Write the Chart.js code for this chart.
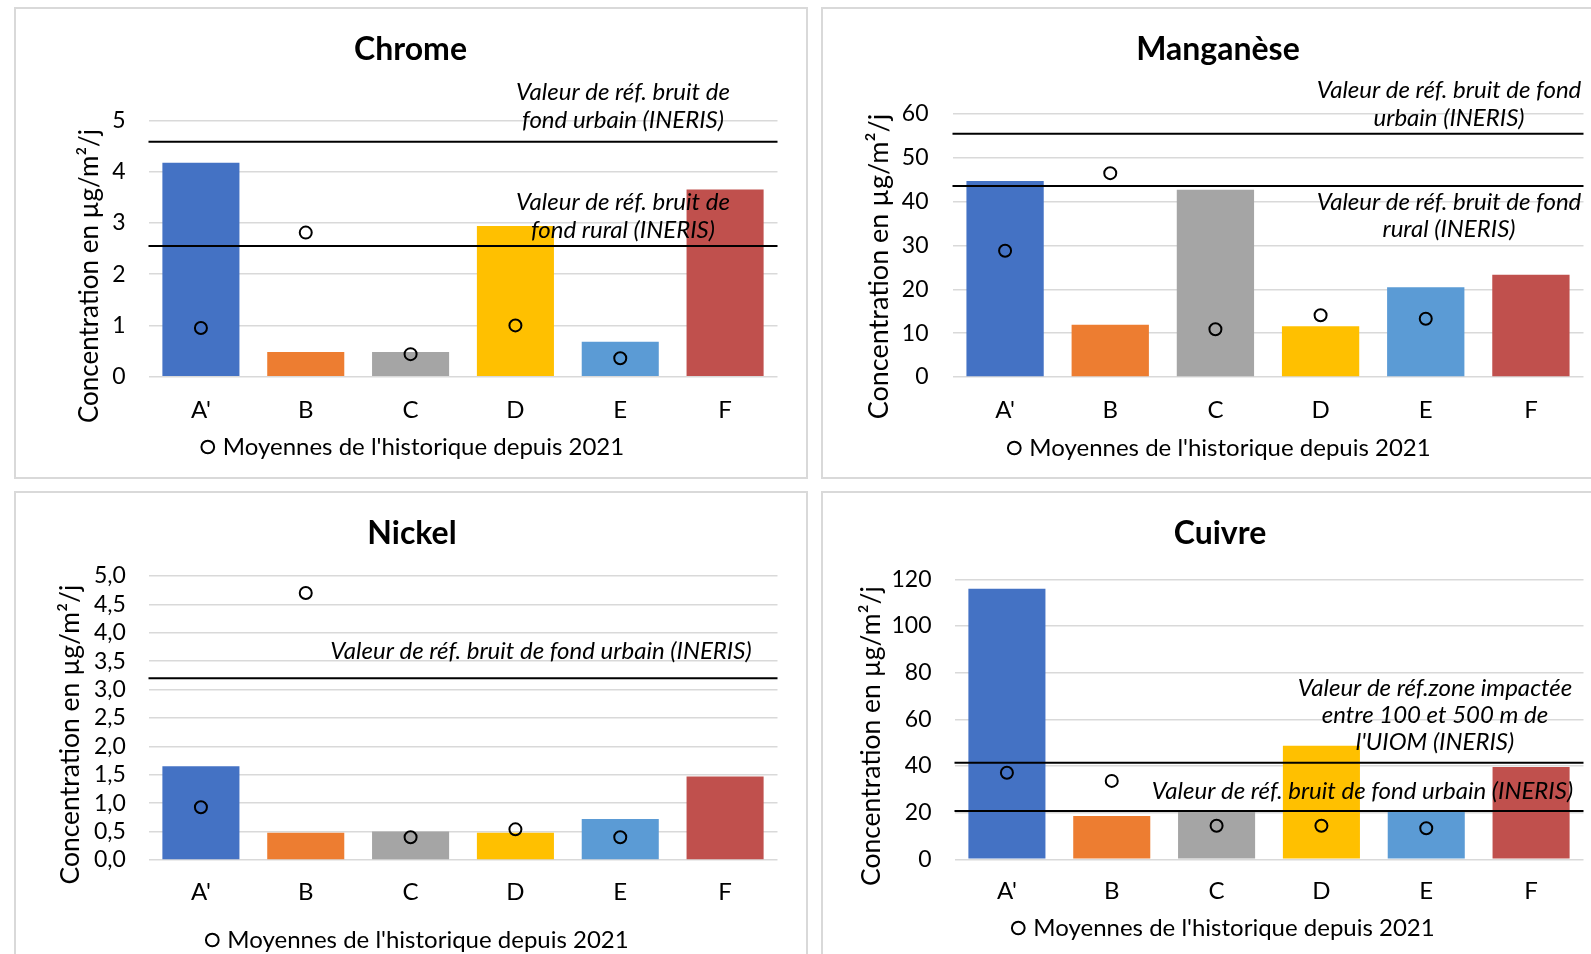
<!DOCTYPE html>
<html>
<head>
<meta charset="utf-8">
<script src="https://cdn.jsdelivr.net/npm/chart.js@4.4.1/dist/chart.umd.min.js"></script>
<style>
  html, body { margin: 0; padding: 0; background: #fff; width: 1591px; height: 954px; overflow: hidden; }
  .panel { position: absolute; border: 2px solid #d9d9d9; background: #fff; overflow: hidden; }
  .panel canvas { position: absolute; left: 0; top: 0; }
</style>
</head>
<body>
<div class="panel" style="left:14px;top:7px;width:790px;height:468px"><canvas id="cChrome"></canvas></div>
<div class="panel" style="left:821px;top:7px;width:790px;height:468px"><canvas id="cManganese"></canvas></div>
<div class="panel" style="left:14px;top:491px;width:790px;height:480px"><canvas id="cNickel"></canvas></div>
<div class="panel" style="left:821px;top:491px;width:790px;height:480px"><canvas id="cCuivre"></canvas></div>
<script>
// Sampling sites and their bar colours
const sites = ["A'", 'B', 'C', 'D', 'E', 'F'];
const siteColors = ['#4472C4', '#ED7D31', '#A5A5A5', '#FFC000', '#5B9BD5', '#C0504D'];
const historyLabel = "Moyennes de l'historique depuis 2021";
const axisTitle = 'Concentration en µg/m²/j';

// Chrome
const chromeValues = [4.17, 0.48, 0.48, 2.94, 0.68, 3.65];
const chromeHistory = [0.95, 2.81, 0.44, 1.00, 0.36, null];
const chromeTicks = [0, 1, 2, 3, 4, 5];
const chromeTickLabels = ['0', '1', '2', '3', '4', '5'];
const chromeRefValues = [4.58, 2.55];
const chromeRefLabels = [['Valeur de réf. bruit de', 'fond urbain (INERIS)'],
                         ['Valeur de réf. bruit de', 'fond rural (INERIS)']];

// Manganèse
const manganeseValues = [44.7, 11.9, 42.7, 11.6, 20.5, 23.3];
const manganeseHistory = [28.8, 46.5, 10.9, 14.1, 13.3, null];
const manganeseTicks = [0, 10, 20, 30, 40, 50, 60];
const manganeseTickLabels = ['0', '10', '20', '30', '40', '50', '60'];
const manganeseRefValues = [55.5, 43.6];
const manganeseRefLabels = [['Valeur de réf. bruit de fond', 'urbain (INERIS)'],
                            ['Valeur de réf. bruit de fond', 'rural (INERIS)']];

// Nickel
const nickelValues = [1.65, 0.48, 0.50, 0.48, 0.72, 1.47];
const nickelHistory = [0.93, 4.70, 0.40, 0.54, 0.40, null];
const nickelTicks = [0, 0.5, 1, 1.5, 2, 2.5, 3, 3.5, 4, 4.5, 5];
const nickelTickLabels = ['0,0', '0,5', '1,0', '1,5', '2,0', '2,5', '3,0', '3,5', '4,0', '4,5', '5,0'];
const nickelRefValues = [3.2];
const nickelRefLabels = [['Valeur de réf. bruit de fond urbain (INERIS)']];

// Cuivre
const cuivreValues = [116.0, 18.6, 20.5, 48.7, 20.5, 39.6];
const cuivreHistory = [37.1, 33.6, 14.4, 14.4, 13.3, null];
const cuivreTicks = [0, 20, 40, 60, 80, 100, 120];
const cuivreTickLabels = ['0', '20', '40', '60', '80', '100', '120'];
const cuivreRefValues = [41.4, 20.7];
const cuivreRefLabels = [['Valeur de réf.zone impactée', 'entre 100 et 500 m de', "l'UIOM (INERIS)"],
                         ['Valeur de réf. bruit de fond urbain (INERIS)']];

const FONT = 'Lato';

// Horizontal reference lines with their italic captions, placed on the y scale
const refLinesPlugin = {
  id: 'refLines',
  afterDatasetsDraw(chart, args, opts) {
    const { ctx, chartArea } = chart;
    const y = chart.scales.y;
    ctx.save();
    opts.values.forEach((v, i) => {
      const py = y.getPixelForValue(v);
      ctx.strokeStyle = '#000';
      ctx.lineWidth = 2;
      ctx.beginPath();
      ctx.moveTo(chartArea.left, py);
      ctx.lineTo(chartArea.right, py);
      ctx.stroke();
      const spot = opts.spots[i];
      ctx.fillStyle = '#000';
      ctx.font = 'italic 24px ' + FONT;
      ctx.textAlign = 'center';
      ctx.textBaseline = 'middle';
      opts.labels[i].forEach((line, k) => {
        ctx.fillText(line, chartArea.left + spot.cx, py + spot.dy[k]);
      });
    });
    ctx.restore();
  }
};

// Vertical axis title, set a little below the middle of the plot area
const axisTitlePlugin = {
  id: 'axisTitle',
  afterDraw(chart, args, opts) {
    const { ctx, chartArea } = chart;
    ctx.save();
    ctx.translate(opts.x, (chartArea.top + chartArea.bottom) / 2 + opts.dy);
    ctx.rotate(-Math.PI / 2);
    ctx.fillStyle = '#000';
    ctx.font = opts.size + 'px ' + FONT;
    ctx.textAlign = 'center';
    ctx.textBaseline = 'middle';
    ctx.fillText(opts.text, 0, 0);
    ctx.restore();
  }
};

// Nudges the legend row sideways once the layout is done
const legendShiftPlugin = {
  id: 'legendShift',
  afterLayout(chart, args, opts) {
    const lg = chart.legend;
    if (lg) { lg.left += opts.dx; lg.right += opts.dx; }
  }
};

function makeChart(cfg) {
  const canvas = document.getElementById(cfg.id);
  canvas.width = cfg.w;
  canvas.height = cfg.h;
  canvas.style.width = cfg.w + 'px';
  canvas.style.height = cfg.h + 'px';
  const last = cfg.ticks[cfg.ticks.length - 1];
  return new Chart(canvas, {
    data: {
      labels: sites,
      datasets: [
        {
          type: 'line',
          label: historyLabel,
          data: cfg.history,
          showLine: false,
          pointStyle: 'circle',
          pointRadius: 6,
          pointHoverRadius: 6,
          pointBorderWidth: 2,
          pointBorderColor: '#000',
          pointBackgroundColor: 'rgba(0,0,0,0)',
          borderColor: '#000',
          backgroundColor: 'rgba(0,0,0,0)',
          order: 0
        },
        {
          type: 'bar',
          label: cfg.title,
          data: cfg.values,
          backgroundColor: siteColors,
          borderWidth: 0,
          barPercentage: 0.735,
          categoryPercentage: 1,
          order: 1
        }
      ]
    },
    options: {
      responsive: false,
      animation: false,
      events: [],
      layout: { padding: { left: cfg.padLeft, right: cfg.padRight, top: 0, bottom: 0 } },
      scales: {
        x: {
          offset: true,
          grid: { display: false },
          border: { display: false },
          ticks: { color: '#000', font: { family: FONT, size: 24 }, padding: cfg.xTickPad },
          afterFit(s) { s.height = s.chart.height - s.chart.legend.height - cfg.areaBottom; }
        },
        y: {
          min: 0,
          max: last,
          afterBuildTicks(s) { s.ticks = cfg.ticks.map(v => ({ value: v })); },
          afterFit(s) { s.width = cfg.axisWidth; },
          grid: { color: '#d9d9d9', lineWidth: 1.5, drawTicks: false },
          border: { display: false },
          ticks: {
            autoSkip: false,
            color: '#000',
            font: { family: FONT, size: 23 },
            padding: cfg.yTickPad,
            callback: (v, i) => cfg.tickLabels[i]
          }
        }
      },
      plugins: {
        title: {
          display: true,
          text: cfg.title,
          color: '#000',
          font: { family: FONT, size: 32, weight: 'bold', lineHeight: 1 },
          padding: { top: cfg.titleTop, bottom: cfg.titleBottom }
        },
        legend: {
          display: true,
          position: 'bottom',
          labels: {
            color: '#000',
            font: { family: FONT, size: 24 },
            usePointStyle: true,
            boxWidth: 6,
            boxHeight: 9,
            padding: 10,
            filter: item => item.datasetIndex === 0
          }
        },
        tooltip: { enabled: false },
        refLines: { values: cfg.refs, labels: cfg.refLabels, spots: cfg.spots },
        axisTitle: { text: axisTitle, size: cfg.axisTitleSize, x: cfg.axisTitleX, dy: cfg.axisTitleDy },
        legendShift: { dx: cfg.legendDx }
      }
    },
    plugins: [refLinesPlugin, axisTitlePlugin, legendShiftPlugin]
  });
}

makeChart({
  id: 'cChrome', title: 'Chrome', w: 790, h: 460,
  values: chromeValues, history: chromeHistory, ticks: chromeTicks, tickLabels: chromeTickLabels,
  refs: chromeRefValues, refLabels: chromeRefLabels,
  spots: [{ cx: 474.5, dy: [-49.3, -21.7] }, { cx: 474.5, dy: [-44, -15.7] }],
  padLeft: 27.5, padRight: 28.5, axisWidth: 105, areaBottom: 367.7, titleTop: 24.5, titleBottom: 54.8,
  xTickPad: 10.8, yTickPad: 23, axisTitleX: 73.2, axisTitleDy: 27.5, axisTitleSize: 26, legendDx: 4
});

makeChart({
  id: 'cManganese', title: 'Manganèse', w: 790, h: 461,
  values: manganeseValues, history: manganeseHistory, ticks: manganeseTicks, tickLabels: manganeseTickLabels,
  refs: manganeseRefValues, refLabels: manganeseRefLabels,
  spots: [{ cx: 496.5, dy: [-43.7, -15.4] }, { cx: 496.5, dy: [16, 43.6] }],
  padLeft: 29.5, padRight: 29.5, axisWidth: 100, areaBottom: 368, titleTop: 24.5, titleBottom: 48.5,
  xTickPad: 10.8, yTickPad: 24, axisTitleX: 56.4, axisTitleDy: 21, axisTitleSize: 27, legendDx: 3
});

makeChart({
  id: 'cNickel', title: 'Nickel', w: 790, h: 469,
  values: nickelValues, history: nickelHistory, ticks: nickelTicks, tickLabels: nickelTickLabels,
  refs: nickelRefValues, refLabels: nickelRefLabels,
  spots: [{ cx: 392.5, dy: [-27] }],
  padLeft: 30.5, padRight: 28.5, axisWidth: 102, areaBottom: 367, titleTop: 24.5, titleBottom: 26.5,
  xTickPad: 10.3, yTickPad: 22.7, axisTitleX: 54, axisTitleDy: 16.6, axisTitleSize: 26.5, legendDx: 7
});

makeChart({
  id: 'cCuivre', title: 'Cuivre', w: 790, h: 457,
  values: cuivreValues, history: cuivreHistory, ticks: cuivreTicks, tickLabels: cuivreTickLabels,
  refs: cuivreRefValues, refLabels: cuivreRefLabels,
  spots: [{ cx: 480.5, dy: [-74.4, -47.7, -20.4] }, { cx: 408, dy: [-19.3] }],
  padLeft: 33.5, padRight: 29.5, axisWidth: 98, areaBottom: 366.3, titleTop: 24.5, titleBottom: 29.8,
  xTickPad: 10, yTickPad: 23, axisTitleX: 48.6, axisTitleDy: 16.8, axisTitleSize: 26.5, legendDx: 5
});
</script>
</body>
</html>
